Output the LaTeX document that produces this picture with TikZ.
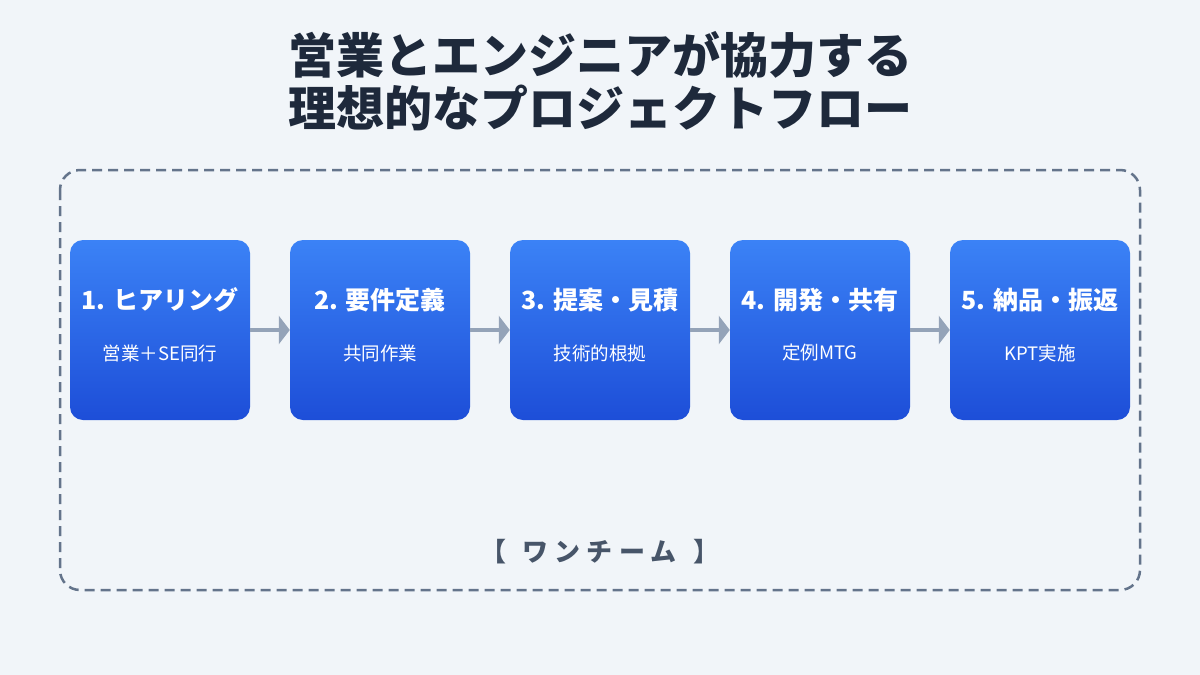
\documentclass[tikz,border=0pt]{standalone}
\usepackage{fontspec}
\setmainfont{Noto Sans CJK JP}
\usetikzlibrary{arrows.meta}
\definecolor{bg}{HTML}{F1F5F9}
\definecolor{titlec}{HTML}{1E293B}
\definecolor{bluetop}{HTML}{3B82F6}
\definecolor{bluebot}{HTML}{1D4ED8}
\definecolor{arrowc}{HTML}{94A3B8}
\definecolor{framec}{HTML}{64748B}
\definecolor{teamc}{HTML}{475569}
\tikzset{
  stepbox/.style={minimum width=180pt, minimum height=180pt, rounded corners=13pt,
    top color=bluetop, bottom color=bluebot, draw=none, inner sep=0pt},
  boxtitle/.style={text=white, font=\fontsize{25}{30}\selectfont\bfseries, inner sep=0pt},
  boxsub/.style={text=white, font=\fontsize{18.5}{22}\selectfont, inner sep=0pt},
  flowarrow/.style={draw=arrowc, line width=4pt, -{Triangle[length=11pt,width=28pt]}},
  frame/.style={draw=framec, line width=2.5pt, dash pattern=on 10pt off 6pt, rounded corners=20pt},
  headline/.style={text=titlec, font=\fontsize{48}{56}\selectfont\bfseries, inner sep=0pt},
  teamlabel/.style={text=teamc, font=\fontsize{26}{30}\selectfont\bfseries, inner sep=0pt}
}
\begin{document}
\begin{tikzpicture}[x=1pt,y=-1pt]
\useasboundingbox (0,0) rectangle (1200,675);
\fill[bg] (0,0) rectangle (1200,675);
\node[headline] (h1) at (600,55) {営業とエンジニアが協力する};
\node[headline] (h2) at (600,108) {理想的なプロジェクトフロー};
\draw[frame] (60,170) rectangle (1140,590);
\foreach \i/\t/\s in {1/{1. ヒアリング}/{営業＋SE同行},2/{2. 要件定義}/{共同作業},3/{3. 提案・見積}/{技術的根拠},4/{4. 開発・共有}/{定例MTG},5/{5. 納品・振返}/{KPT実施}}{
  \node[stepbox] (s\i) at ({160+220*(\i-1)},330) {};
  \node[boxtitle] (t\i) at ({160+220*(\i-1)},300) {\t};
  \node[boxsub] (u\i) at ({160+220*(\i-1)},353) {\s};
}
\foreach \a/\b in {1/2,2/3,3/4,4/5}{
  \draw[flowarrow] (s\a.east) -- (s\b.west);
}
\node[teamlabel] (team) at (600,552) {【\hspace{17pt}ワ\hspace{6pt}ン\hspace{6pt}チ\hspace{6pt}ー\hspace{6pt}ム\hspace{17pt}】};
\end{tikzpicture}
\end{document}
